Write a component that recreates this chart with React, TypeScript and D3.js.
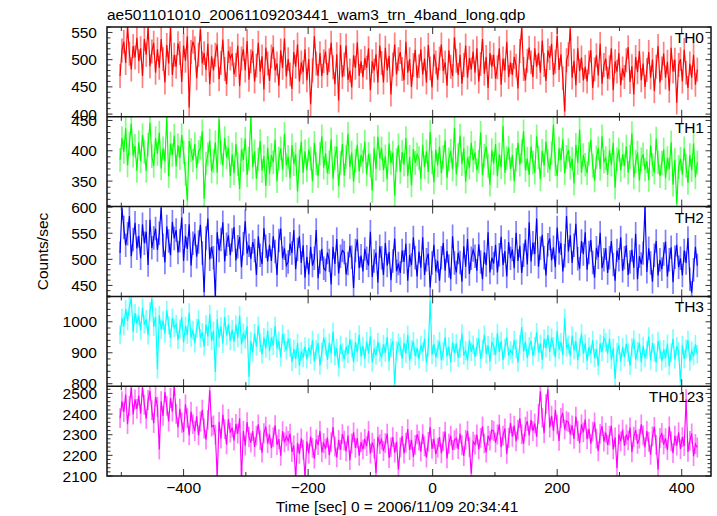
import React from "react";
import * as d3 from "d3";

// ---- data (1 value per 3-s bin, starting at t = -502 s) ----
const TIME_START = -502;
const BIN = 3;

const TH0 = [
  470, 517, 533, 494, 561, 511, 482, 525, 504, 540,
  497, 521, 470, 538, 509, 559, 488, 515, 531, 476,
  519, 485, 538, 501, 458, 527, 493, 558, 472, 509,
  487, 530, 512, 459, 526, 498, 543, 412, 514, 533,
  521, 466, 509, 556, 493, 512, 481, 529, 455, 506,
  480, 509, 528, 464, 494, 537, 483, 455, 516, 502,
  511, 473, 490, 526, 451, 502, 519, 480, 534, 463,
  497, 516, 460, 489, 531, 478, 506, 445, 522, 493,
  461, 506, 523, 480, 493, 452, 517, 485, 539, 469,
  501, 473, 446, 514, 487, 528, 460, 495, 477, 519,
  462, 501, 418, 480, 543, 493, 470, 512, 470, 497,
  515, 472, 499, 531, 486, 455, 510, 425, 527, 468,
  491, 526, 463, 480, 449, 508, 485, 532, 470, 497,
  468, 503, 485, 521, 444, 497, 480, 510, 458, 526,
  494, 458, 522, 480, 507, 436, 491, 528, 473, 501,
  514, 483, 462, 533, 476, 501, 450, 490, 518, 467,
  488, 519, 473, 502, 458, 527, 484, 449, 510, 495,
  463, 502, 528, 479, 495, 452, 517, 487, 470, 541,
  498, 472, 509, 456, 490, 526, 467, 503, 482, 515,
  476, 521, 460, 492, 538, 474, 505, 448, 512, 487,
  509, 465, 486, 521, 454, 502, 480, 533, 468, 495,
  472, 505, 489, 447, 516, 558, 483, 462, 498, 522,
  495, 468, 521, 487, 512, 476, 535, 490, 461, 517,
  503, 529, 472, 496, 544, 481, 510, 466, 405, 499,
  510, 557, 467, 498, 453, 521, 479, 504, 462, 487,
  460, 495, 517, 448, 482, 508, 471, 529, 456, 490,
  502, 465, 486, 521, 444, 497, 478, 512, 453, 484,
  468, 499, 523, 459, 488, 436, 505, 477, 516, 462,
  493, 450, 481, 514, 467, 500, 442, 487, 525, 458,
  484, 511, 467, 496, 443, 522, 478, 500, 421, 490,
  501, 460, 518, 476, 448, 493, 467, 509, 454, 482,
];

const TH1 = [
  385, 421, 398, 437, 376, 412, 445, 392, 408, 367,
  414, 383, 426, 398, 367, 410, 446, 391, 375, 421,
  395, 430, 371, 404, 383, 456, 358, 412, 393, 425,
  374, 409, 388, 426, 397, 362, 318, 416, 401, 384,
  411, 372, 398, 405, 432, 321, 379, 394, 417, 366,
  383, 414, 364, 452, 397, 376, 421, 389, 405, 358,
  394, 363, 411, 378, 337, 402, 385, 420, 360, 387,
  456, 373, 399, 354, 386, 416, 367, 391, 342, 405,
  362, 393, 381, 418, 350, 387, 404, 369, 428, 376,
  390, 355, 409, 378, 394, 333, 383, 415, 364, 399,
  368, 402, 387, 350, 413, 379, 358, 395, 424, 372,
  396, 363, 381, 419, 354, 388, 407, 342, 380, 411,
  359, 390, 428, 373, 397, 349, 384, 410, 366, 393,
  382, 415, 361, 395, 376, 334, 404, 370, 423, 387,
  404, 368, 391, 353, 412, 380, 397, 326, 385, 409,
  365, 398, 377, 421, 358, 390, 343, 403, 380, 394,
  388, 354, 410, 373, 399, 365, 431, 381, 348, 402,
  376, 407, 363, 390, 417, 355, 386, 400, 369, 438,
  361, 393, 425, 378, 404, 349, 389, 372, 413, 384,
  397, 368, 382, 430, 360, 392, 407, 375, 344, 401,
  379, 411, 358, 394, 373, 441, 364, 388, 405, 370,
  393, 350, 385, 413, 377, 399, 432, 368, 387, 360,
  407, 381, 364, 424, 389, 353, 400, 376, 415, 383,
  369, 396, 443, 378, 358, 404, 385, 419, 363, 390,
  401, 372, 387, 346, 410, 380, 435, 364, 393, 377,
  363, 395, 418, 375, 351, 389, 404, 370, 424, 382,
  388, 360, 401, 377, 413, 339, 386, 402, 368, 394,
  375, 407, 364, 390, 429, 356, 382, 397, 351, 386,
  394, 369, 383, 352, 409, 377, 364, 420, 381, 358,
  380, 402, 355, 388, 370, 414, 344, 385, 312, 373,
  387, 361, 404, 375, 347, 393, 368, 412, 356, 381,
];

const TH2 = [
  512, 598, 561, 527, 549, 583, 506, 538, 570, 521,
  545, 502, 567, 531, 553, 489, 576, 522, 541, 559,
  518, 550, 599, 527, 494, 563, 535, 508, 572, 540,
  556, 513, 536, 580, 497, 545, 520, 567, 488, 531,
  549, 505, 533, 566, 512, 437, 541, 578, 500, 524,
  503, 430, 552, 517, 538, 571, 496, 529, 546, 508,
  537, 562, 498, 524, 543, 485, 530, 573, 511, 527,
  501, 533, 517, 470, 544, 508, 491, 560, 525, 496,
  528, 497, 544, 515, 470, 536, 559, 502, 521, 488,
  495, 530, 512, 556, 481, 519, 544, 493, 527, 465,
  505, 471, 524, 488, 502, 556, 464, 495, 520, 483,
  479, 513, 498, 452, 524, 491, 539, 473, 506, 517,
  513, 471, 492, 526, 504, 445, 517, 538, 483, 507,
  477, 520, 502, 488, 553, 466, 497, 513, 455, 525,
  503, 470, 531, 488, 514, 460, 497, 540, 477, 492,
  474, 517, 495, 530, 459, 508, 489, 542, 503, 467,
  515, 484, 542, 470, 499, 511, 446, 493, 528, 477,
  497, 459, 503, 531, 478, 516, 487, 462, 544, 493,
  475, 513, 494, 457, 525, 486, 539, 472, 502, 518,
  506, 478, 529, 495, 462, 514, 489, 552, 475, 503,
  492, 528, 475, 509, 543, 489, 516, 467, 533, 502,
  519, 483, 551, 497, 526, 474, 508, 538, 490, 571,
  496, 532, 510, 578, 486, 521, 547, 503, 469, 528,
  540, 498, 523, 485, 561, 512, 531, 477, 507, 583,
  515, 546, 493, 527, 568, 501, 482, 535, 510, 552,
  480, 513, 537, 494, 465, 522, 504, 551, 483, 499,
  521, 474, 503, 535, 490, 459, 517, 499, 542, 478,
  503, 527, 470, 495, 518, 484, 549, 462, 506, 491,
  512, 600, 476, 521, 493, 457, 508, 535, 469, 499,
  481, 510, 534, 467, 499, 523, 456, 504, 528, 485,
  502, 469, 517, 493, 541, 462, 436, 480, 524, 488,
];

const TH3 = [
  958, 1012, 986, 1041, 1003, 1050, 1076, 967, 1028, 994,
  1019, 972, 1045, 991, 1008, 957, 1033, 1074, 984, 1016,
  846, 1021, 975, 1004, 962, 1037, 989, 948, 1013, 980,
  992, 941, 977, 1015, 933, 986, 958, 1030, 949, 973,
  931, 980, 1008, 947, 966, 920, 991, 952, 1024, 938,
  971, 838, 1008, 947, 985, 929, 1016, 955, 992, 938,
  975, 936, 991, 948, 1020, 927, 964, 943, 986, 822,
  938, 901, 963, 920, 987, 932, 895, 949, 914, 971,
  905, 950, 923, 986, 914, 939, 886, 961, 932, 908,
  945, 918, 870, 912, 880, 931, 858, 905, 884, 920,
  879, 917, 894, 941, 872, 910, 931, 859, 903, 948,
  921, 877, 932, 898, 968, 889, 915, 853, 926, 901,
  879, 920, 896, 943, 914, 870, 935, 901, 958, 888,
  922, 881, 937, 898, 953, 869, 913, 891, 935, 902,
  885, 927, 900, 951, 872, 916, 938, 798, 907, 931,
  920, 881, 932, 898, 958, 874, 911, 937, 889, 916,
  879, 925, 903, 946, 868, 917, 1068, 894, 928, 885,
  912, 937, 876, 905, 951, 888, 920, 869, 934, 899,
  930, 884, 913, 962, 891, 907, 875, 940, 903, 926,
  887, 919, 946, 880, 913, 958, 896, 924, 871, 935,
  921, 893, 964, 902, 938, 877, 915, 951, 890, 908,
  895, 941, 912, 869, 927, 983, 904, 936, 883, 920,
  938, 890, 921, 966, 901, 929, 877, 945, 915, 957,
  903, 948, 921, 885, 971, 909, 934, 892, 1012, 917,
  926, 889, 955, 908, 937, 876, 918, 962, 898, 930,
  874, 919, 896, 941, 883, 912, 857, 930, 903, 948,
  933, 897, 946, 878, 915, 815, 902, 925, 871, 918,
  886, 929, 900, 858, 917, 943, 878, 905, 932, 869,
  922, 883, 909, 952, 875, 931, 901, 868, 938, 910,
  873, 911, 882, 929, 857, 900, 946, 878, 921, 904,
  806, 925, 880, 913, 941, 872, 906, 889, 927, 895,
];

const TH0123 = [
  2380, 2462, 2410, 2495, 2351, 2440, 2528, 2398, 2471, 2425,
  2489, 2402, 2530, 2445, 2377, 2468, 2512, 2419, 2356, 2483,
  2435, 2228, 2462, 2391, 2506, 2440, 2364, 2478, 2412, 2535,
  2401, 2335, 2426, 2358, 2312, 2447, 2380, 2297, 2412, 2351,
  2318, 2389, 2297, 2364, 2421, 2330, 2276, 2372, 2515, 2339,
  2345, 2300, 2096, 2362, 2281, 2398, 2327, 2253, 2376, 2310,
  2334, 2271, 2352, 2305, 2380, 2092, 2318, 2247, 2361, 2289,
  2262, 2318, 2241, 2296, 2350, 2274, 2213, 2307, 2339, 2258,
  2301, 2235, 2288, 2346, 2250, 2279, 2198, 2317, 2263, 2292,
  2270, 2305, 2216, 2248, 2090, 2261, 2207, 2282, 2228, 2094,
  2268, 2209, 2291, 2236, 2184, 2277, 2250, 2318, 2215, 2259,
  2232, 2286, 2201, 2264, 2337, 2243, 2190, 2275, 2226, 2303,
  2271, 2219, 2296, 2177, 2258, 2311, 2236, 2282, 2198, 2264,
  2229, 2280, 2245, 2318, 2208, 2262, 2233, 2115, 2290, 2254,
  2276, 2221, 2259, 2305, 2187, 2240, 2288, 2213, 2266, 2130,
  2238, 2294, 2209, 2262, 2327, 2226, 2275, 2193, 2251, 2302,
  2271, 2218, 2303, 2244, 2189, 2265, 2337, 2231, 2280, 2206,
  2236, 2289, 2210, 2268, 2315, 2185, 2257, 2296, 2226, 2274,
  2283, 2230, 2306, 2249, 2197, 2275, 2318, 2240, 2111, 2266,
  2252, 2301, 2229, 2285, 2340, 2258, 2214, 2295, 2271, 2323,
  2318, 2262, 2301, 2349, 2240, 2296, 2331, 2207, 2284, 2356,
  2290, 2344, 2268, 2325, 2381, 2302, 2257, 2339, 2366, 2296,
  2372, 2318, 2355, 2290, 2401, 2510, 2382, 2308, 2448, 2520,
  2335, 2392, 2318, 2420, 2349, 2270, 2381, 2405, 2326, 2366,
  2361, 2302, 2345, 2280, 2388, 2318, 2259, 2350, 2311, 2374,
  2278, 2329, 2256, 2315, 2360, 2281, 2220, 2304, 2342, 2267,
  2310, 2251, 2296, 2343, 2229, 2287, 2138, 2302, 2268, 2325,
  2246, 2301, 2273, 2335, 2215, 2290, 2322, 2256, 2281, 2350,
  2297, 2240, 2318, 2265, 2203, 2292, 2338, 2251, 2130, 2284,
  2309, 2252, 2283, 2226, 2340, 2268, 2211, 2295, 2247, 2312,
  2230, 2288, 2245, 2472, 2217, 2270, 2306, 2196, 2255, 2238,
];

const PANEL_NAMES = ["TH0", "TH1", "TH2", "TH3", "TH0123"];
const SERIES = [TH0, TH1, TH2, TH3, TH0123];
const ERRORS = [22, 19.5, 22.5, 30, 48];
const Y_DOMAINS = [
  [395, 560],
  [308, 456],
  [429, 601],
  [792, 1082],
  [2100, 2535],
];
const Y_TICK_LABELS = [
  [400, 450, 500, 550],
  [350, 400, 450],
  [450, 500, 550, 600],
  [800, 900, 1000],
  [2100, 2200, 2300, 2400, 2500],
];
const Y_MINOR_STEP = [10, 10, 10, 20, 20];
const X_TICK_LABELS = [-400, -200, 0, 200, 400];
const X_MINOR_TICKS = [-500, -300, -100, 100, 300];
const X_DOMAIN = [-523, 447];

const TITLE = "ae501101010_20061109203441_wam3_trn_4band_long.qdp";
const X_LABEL = "Time [sec] 0 = 2006/11/09 20:34:41";
const Y_LABEL = "Counts/sec";

// ---- styles / layout ----
const COLORS = ["#ff0000", "#00ff00", "#0000ff", "#00ffff", "#ff00ff"];
const W = 717;
const H = 516;
const LEFT = 107;
const RIGHT = 711;
const TOP = 27;
const BOTTOM = 476;
const FONT = "'Liberation Sans', Arial, Helvetica, sans-serif";
const FS = 15.5;
const TICK_COLOR = "#333";

export default function App() {
  const ph = (BOTTOM - TOP) / SERIES.length;
  const x = d3.scaleLinear().domain(X_DOMAIN).range([LEFT, RIGHT]);
  const fmt = (v: number) => String(v).replace("-", "\u2212");

  const panels = SERIES.map((vals, i) => {
    const top = TOP + i * ph;
    const bot = top + ph;
    const y = d3.scaleLinear().domain(Y_DOMAINS[i]).range([bot, top]);
    const pts = vals.map((v, k) => [TIME_START + k * BIN, v] as [number, number]);
    const err = ERRORS[i];
    let ePath = "";
    pts.forEach(([t, v]) => {
      const px = x(t);
      ePath += `M${px.toFixed(2)},${y(v - err).toFixed(2)}V${y(v + err).toFixed(2)}`;
    });
    const line = d3
      .line<[number, number]>()
      .x((d) => x(d[0]))
      .y((d) => y(d[1]))(pts) as string;

    const [d0, d1] = Y_DOMAINS[i];
    const step = Y_MINOR_STEP[i];
    const minors = d3.range(Math.ceil(d0 / step) * step, d1 + 0.001, step);
    const majors = Y_TICK_LABELS[i];
    const clipId = `clip${i}`;

    return (
      <g key={i}>
        <defs>
          <clipPath id={clipId}>
            <rect x={LEFT} y={top} width={RIGHT - LEFT} height={ph} />
          </clipPath>
        </defs>
        <g clipPath={`url(#${clipId})`}>
          <path d={ePath} stroke={COLORS[i]} strokeOpacity={0.5} strokeWidth={1.7} fill="none" />
          <path d={line} stroke={COLORS[i]} strokeWidth={1.15} fill="none" strokeLinejoin="miter" />
        </g>
        {minors.map((v) => {
          const isMajor = majors.includes(v);
          const len = isMajor ? 5.5 : 3.5;
          const yy = y(v);
          if (yy < top - 0.5 || yy > bot + 0.5) return null;
          return (
            <g key={`yt${v}`}>
              <line x1={LEFT} x2={LEFT + len} y1={yy} y2={yy} stroke={TICK_COLOR} strokeWidth={1} />
              <line x1={RIGHT} x2={RIGHT - len} y1={yy} y2={yy} stroke={TICK_COLOR} strokeWidth={1} />
            </g>
          );
        })}
        {majors.map((v) => (
          <text
            key={`yl${v}`}
            x={97}
            y={y(v)}
            dy="0.36em"
            textAnchor="end"
            fontSize={FS}
            fontFamily={FONT}
            fill="#000"
          >
            {v}
          </text>
        ))}
        {X_TICK_LABELS.map((t) => (
          <g key={`xm${t}`}>
            <line x1={x(t)} x2={x(t)} y1={top} y2={top + 7} stroke={TICK_COLOR} strokeWidth={1} />
            <line x1={x(t)} x2={x(t)} y1={bot} y2={bot - 7} stroke={TICK_COLOR} strokeWidth={1} />
          </g>
        ))}
        {X_MINOR_TICKS.map((t) => (
          <g key={`xn${t}`}>
            <line x1={x(t)} x2={x(t)} y1={top} y2={top + 4} stroke={TICK_COLOR} strokeWidth={1} />
            <line x1={x(t)} x2={x(t)} y1={bot} y2={bot - 4} stroke={TICK_COLOR} strokeWidth={1} />
          </g>
        ))}
        <text x={704} y={top + 16} textAnchor="end" fontSize={FS} fontFamily={FONT} fill="#000">
          {PANEL_NAMES[i]}
        </text>
        {i > 0 && (
          <line x1={LEFT} x2={RIGHT} y1={top} y2={top} stroke="#111" strokeWidth={1.5} />
        )}
      </g>
    );
  });

  return (
    <svg
      width={W}
      height={H}
      style={{ position: "absolute", left: 0, top: 0, background: "#fff" }}
    >
      <rect x={0} y={0} width={W} height={H} fill="#fff" />
      <text x={LEFT} y={20} fontSize={FS} fontFamily={FONT} fill="#000">
        {TITLE}
      </text>
      {panels}
      <rect
        x={LEFT}
        y={TOP}
        width={RIGHT - LEFT}
        height={BOTTOM - TOP}
        fill="none"
        stroke="#111"
        strokeWidth={1.5}
      />
      {X_TICK_LABELS.map((t) => (
        <text
          key={`xl${t}`}
          x={x(t)}
          y={493}
          textAnchor="middle"
          fontSize={FS}
          fontFamily={FONT}
          fill="#000"
        >
          {fmt(t)}
        </text>
      ))}
      <text x={397} y={512} textAnchor="middle" fontSize={FS} fontFamily={FONT} fill="#000">
        {X_LABEL}
      </text>
      <text
        transform={`translate(48,${(TOP + BOTTOM) / 2}) rotate(-90)`}
        textAnchor="middle"
        fontSize={FS}
        fontFamily={FONT}
        fill="#000"
      >
        {Y_LABEL}
      </text>
    </svg>
  );
}
